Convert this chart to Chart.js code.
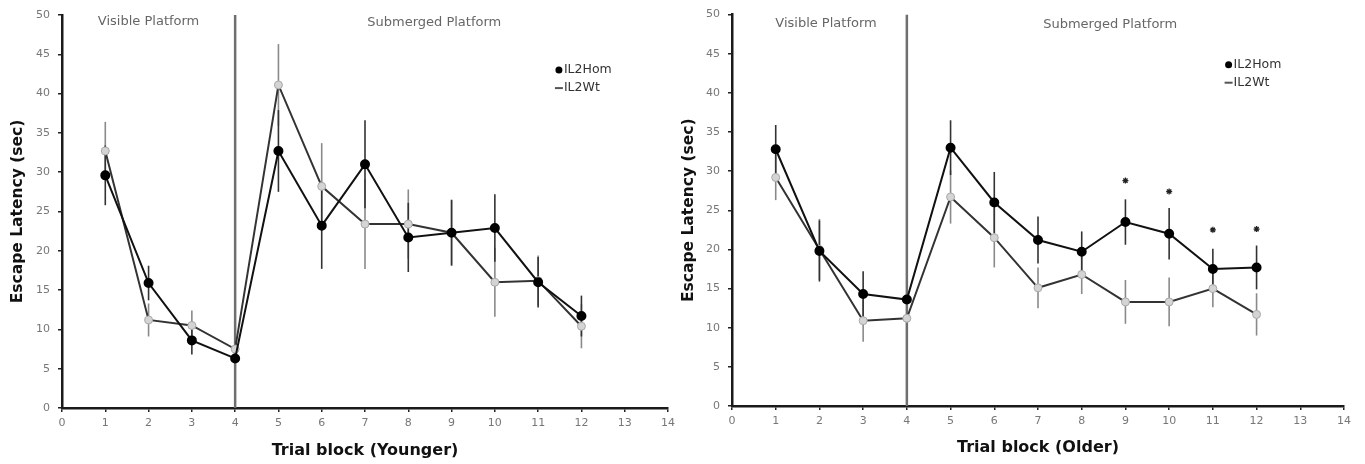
<!DOCTYPE html>
<html>
<head>
<meta charset="utf-8">
<title>Escape latency - IL2</title>
<script src="https://cdn.jsdelivr.net/npm/chart.js@4.4.1/dist/chart.umd.min.js"></script>
<style>
  html, body { margin: 0; padding: 0; background: #fff; }
  #wrap { position: relative; width: 1365px; height: 464px; }
  .box { position: absolute; top: 0; height: 464px; }
  #boxYoung { left: 0; width: 680px; }
  #boxOld { left: 680px; width: 685px; }
</style>
</head>
<body>
<div id="wrap">
  <div class="box" id="boxYoung"><canvas id="young"></canvas></div>
  <div class="box" id="boxOld"><canvas id="old"></canvas></div>
</div>
<script>
// trial blocks + axis ticks
const blocks = [1, 2, 3, 4, 5, 6, 7, 8, 9, 10, 11, 12];
const xTicks = [0, 1, 2, 3, 4, 5, 6, 7, 8, 9, 10, 11, 12, 13, 14];
const yTicks = [0, 5, 10, 15, 20, 25, 30, 35, 40, 45, 50];
const dividerBlock = 4;   // visible -> submerged platform

// younger mice (sec)
const youngHom    = [29.6, 15.9, 8.6, 6.3, 32.7, 23.2, 31.0, 21.7, 22.3, 22.9, 16.0, 11.7];
const youngHomErr = [3.8, 2.2, 1.8, 2.0, 5.2, 5.5, 5.6, 4.4, 4.2, 4.3, 3.2, 2.6];
const youngWt     = [32.7, 11.2, 10.5, 7.5, 41.1, 28.2, 23.4, 23.4, 22.3, 16.0, 16.2, 10.4];
const youngWtErr  = [3.7, 2.1, 1.9, 2.0, 5.2, 5.5, 5.7, 4.4, 4.1, 4.4, 3.2, 2.8];

// older mice (sec)
const oldHom    = [32.8, 19.8, 14.3, 13.6, 33.0, 26.0, 21.2, 19.7, 23.5, 22.0, 17.5, 17.7];
const oldHomErr = [3.1, 3.9, 2.9, 3.0, 3.5, 3.9, 3.0, 2.6, 2.9, 3.3, 2.6, 2.8];
const oldWt     = [29.2, 20.0, 10.9, 11.2, 26.7, 21.5, 15.1, 16.8, 13.3, 13.3, 15.0, 11.7];
const oldWtErr  = [2.9, 3.9, 2.7, 3.0, 3.4, 3.8, 2.6, 2.5, 2.8, 3.1, 2.4, 2.7];

// significance marks (older)
const starBlocks = [9, 10, 11, 12];
const starY      = [28.8, 27.4, 22.5, 22.6];

const seriesNames = ['IL2Hom', 'IL2Wt'];
const phaseNames  = ['Visible Platform', 'Submerged Platform'];

Chart.defaults.font.family = "'DejaVu Sans', Verdana, sans-serif";

function pts(vals, xs) {
    return vals.map((v, i) => ({ x: (xs || blocks)[i], y: v }));
}

function makeChart(id, cfg) {
    const ctx = document.getElementById(id).getContext('2d');

    const datasets = [
        {
            label: 'divider',
            data: [{ x: dividerBlock, y: yTicks[0] }, { x: dividerBlock, y: yTicks[yTicks.length - 1] }],
            borderColor: '#6f6f6f',
            borderWidth: 2.5,
            pointRadius: 0,
            order: 5
        },
        {
            label: seriesNames[1],
            data: pts(cfg.wt),
            borderColor: '#333',
            borderWidth: 2,
            pointRadius: 4,
            pointBackgroundColor: '#d4d4d4',
            pointBorderColor: '#a8a8a8',
            pointBorderWidth: 1,
            order: 3
        },
        {
            label: seriesNames[0],
            data: pts(cfg.hom),
            borderColor: '#111',
            borderWidth: 2,
            pointRadius: 4,
            pointBackgroundColor: '#000',
            pointBorderColor: '#000',
            order: 2
        }
    ];

    if (cfg.stars) {
        datasets.push({
            label: 'p',
            data: pts(cfg.stars.y, cfg.stars.x),
            showLine: false,
            pointStyle: 'star',
            pointRadius: 3,
            borderColor: '#222',
            borderWidth: 1.3,
            order: 1
        });
    }

    // error bars go behind lines + divider
    const errorBars = {
        id: 'errorBars',
        beforeDatasetsDraw(chart) {
            const { ctx, scales: { x, y } } = chart;
            ctx.save();
            ctx.lineWidth = 1.6;
            [[cfg.wt, cfg.wtErr, '#8a8a8a'], [cfg.hom, cfg.homErr, '#333']].forEach(([m, e, col]) => {
                ctx.strokeStyle = col;
                blocks.forEach((b, i) => {
                    const px = x.getPixelForValue(b);
                    ctx.beginPath();
                    ctx.moveTo(px, y.getPixelForValue(m[i] - e[i]));
                    ctx.lineTo(px, y.getPixelForValue(m[i] + e[i]));
                    ctx.stroke();
                });
            });
            ctx.restore();
        }
    };

    // phase labels + little legend
    const notes = {
        id: 'notes',
        afterDatasetsDraw(chart) {
            const { ctx, scales: { x, y } } = chart;
            ctx.save();
            ctx.font = "13px 'DejaVu Sans', Verdana, sans-serif";
            ctx.textBaseline = 'middle';
            ctx.textAlign = 'center';
            ctx.fillStyle = '#666';
            cfg.phases.forEach((p, i) => {
                ctx.fillText(phaseNames[i], x.getPixelForValue(p.x), y.getPixelForValue(p.y));
            });

            ctx.textAlign = 'left';
            const lx = x.getPixelForValue(cfg.legend.x);
            const ly0 = y.getPixelForValue(cfg.legend.y[0]);
            const ly1 = y.getPixelForValue(cfg.legend.y[1]);
            // Hom: black dot
            ctx.beginPath();
            ctx.arc(lx, ly0, 3.5, 0, Math.PI * 2);
            ctx.fillStyle = '#000';
            ctx.fill();
            // Wt: grey dash
            ctx.strokeStyle = '#555';
            ctx.lineWidth = 2;
            ctx.beginPath();
            ctx.moveTo(lx - 4, ly1);
            ctx.lineTo(lx + 4, ly1);
            ctx.stroke();
            ctx.font = "12.5px 'DejaVu Sans', Verdana, sans-serif";
            ctx.fillStyle = '#333';
            ctx.fillText(seriesNames[0], lx + 5, ly0);
            ctx.fillText(seriesNames[1], lx + 5, ly1);
            ctx.restore();
        }
    };

    return new Chart(ctx, {
        type: 'line',
        data: { datasets },
        plugins: [errorBars, notes],
        options: {
            responsive: true,
            maintainAspectRatio: false,
            animation: false,
            layout: { padding: { top: cfg.padTop, right: cfg.padRight, left: 0, bottom: 0 } },
            plugins: {
                legend: { display: false },
                tooltip: { enabled: false }
            },
            scales: {
                x: {
                    type: 'linear',
                    min: xTicks[0],
                    max: xTicks[xTicks.length - 1],
                    afterBuildTicks: (s) => { s.ticks = xTicks.map(v => ({ value: v })); },
                    afterFit: (s) => { s.height = cfg.xH; },
                    grid: { display: true, drawOnChartArea: false, drawTicks: true, tickLength: 4, color: '#222', lineWidth: 1.5 },
                    border: { display: true, color: '#1a1a1a', width: 2.5 },
                    ticks: { color: '#777', font: { size: 11 }, padding: 5, maxRotation: 0 },
                    title: {
                        display: true,
                        text: cfg.xTitle,
                        color: '#111',
                        font: { size: 16, weight: 'bold' },
                        padding: { top: 0, bottom: cfg.xTitlePad }
                    }
                },
                y: {
                    min: yTicks[0],
                    max: yTicks[yTicks.length - 1],
                    afterBuildTicks: (s) => { s.ticks = yTicks.map(v => ({ value: v })); },
                    afterFit: (s) => { s.width = cfg.yW; },
                    grid: { display: true, drawOnChartArea: false, drawTicks: true, tickLength: 4, color: '#222', lineWidth: 1.5 },
                    border: { display: true, color: '#1a1a1a', width: 2.5 },
                    ticks: { color: '#777', font: { size: 11 }, padding: 8 },
                    title: {
                        display: true,
                        text: 'Escape Latency (sec)',
                        color: '#111',
                        font: { size: 15.5, weight: 'bold' },
                        padding: { top: cfg.yTitlePad, bottom: 0 }
                    }
                }
            }
        }
    });
}

makeChart('young', {
    hom: youngHom, homErr: youngHomErr, wt: youngWt, wtErr: youngWtErr,
    xTitle: 'Trial block (Younger)',
    yW: 62, xH: 56, padTop: 15, padRight: 5, xTitlePad: 4, yTitlePad: 9,
    phases: [{ x: 2.0, y: 49.1 }, { x: 8.6, y: 49.0 }],
    legend: { x: 11.48, y: [43.0, 40.7] }
});

makeChart('old', {
    hom: oldHom, homErr: oldHomErr, wt: oldWt, wtErr: oldWtErr,
    xTitle: 'Trial block (Older)',
    yW: 52, xH: 58, padTop: 14, padRight: 21, xTitlePad: 7, yTitlePad: 0,
    phases: [{ x: 2.15, y: 48.8 }, { x: 8.65, y: 48.7 }],
    legend: { x: 11.36, y: [43.6, 41.3] },
    stars: { x: starBlocks, y: starY }
});
</script>
</body>
</html>
